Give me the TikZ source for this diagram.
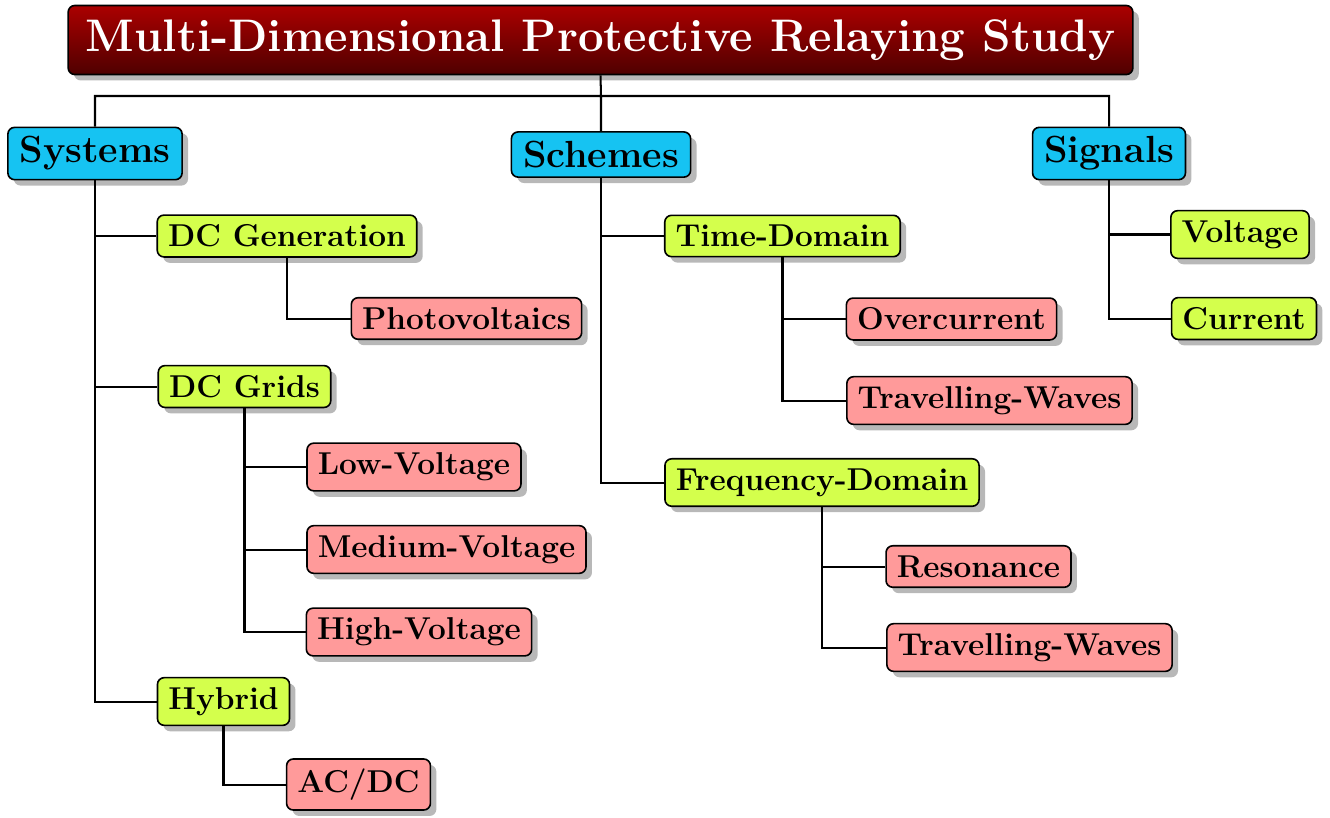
\documentclass[tikz,border=0pt]{standalone}
\usetikzlibrary{shadows}
\definecolor{lvlone}{HTML}{16C3F2}
\definecolor{lvltwo}{HTML}{D4FF4C}
\definecolor{lvlthree}{HTML}{FF9A9A}
\tikzset{
  box/.style={draw=black, line width=0.6pt, rounded corners=2.5pt, inner xsep=4pt, inner ysep=3.6pt,
    font=\fontsize{11.7}{14}\selectfont\bfseries,
    drop shadow={fill=black!28, opacity=1, shadow xshift=2.2pt, shadow yshift=-2.2pt}},
  titlebox/.style={box, top color=red!67!black, bottom color=red!31!black, text=white,
    font=\fontsize{16.9}{20}\selectfont\bfseries, inner ysep=5.2pt, inner xsep=6.5pt},
  onebox/.style={box, fill=lvlone, font=\fontsize{14}{17}\selectfont\bfseries, inner ysep=3.4pt, inner xsep=4.3pt},
  twobox/.style={box, fill=lvltwo},
  threebox/.style={box, fill=lvlthree},
  link/.style={draw=black, line width=0.75pt}
}
\begin{document}
\begin{tikzpicture}[x=0.37037pt, y=-0.37037pt]
\useasboundingbox (0,0) rectangle (1330,817);
\node[titlebox] (title) at (600.5,40) {Multi-Dimensional Protective Relaying Study};
\node[onebox] (sys) at (95,153.5) {Systems};
\node[onebox] (sch) at (601,154.5) {Schemes};
\node[onebox] (sig) at (1109,153.5) {Signals};
% Systems branch
\node[twobox] (dcgen) at (287,236) {DC Generation};
\node[threebox] (pv) at (466.5,318.5) {Photovoltaics};
\node[twobox] (dcgrid) at (244.5,386.5) {DC Grids};
\node[threebox] (lv) at (414,467) {Low-Voltage};
\node[threebox] (mv) at (446.5,549.5) {Medium-Voltage};
\node[threebox] (hv) at (419,632) {High-Voltage};
\node[twobox] (hyb) at (223.5,701.5) {Hybrid};
\node[threebox] (acdc) at (358.5,784.5) {AC/DC};
% Schemes branch
\node[twobox] (td) at (782.5,236) {Time-Domain};
\node[threebox] (oc) at (951.5,319) {Overcurrent};
\node[threebox] (tw1) at (989.5,400.5) {Travelling-Waves};
\node[twobox] (fd) at (822,482.5) {Frequency-Domain};
\node[threebox] (res) at (978.5,566.5) {Resonance};
\node[threebox] (tw2) at (1029.5,647.5) {Travelling-Waves};
% Signals branch
\node[twobox] (volt) at (1240,234.5) {Voltage};
\node[twobox] (cur) at (1244,318.5) {Current};
% connectors
\coordinate (bus) at (601,96);
\draw[link] (title.south) -- (bus) (bus) -| (sys.north) (bus) -| (sch.north) (bus) -| (sig.north);
\draw[link] (sys.south) |- (dcgen.west) (sys.south) |- (dcgrid.west) (sys.south) |- (hyb.west);
\draw[link] (dcgen.south) |- (pv.west);
\draw[link] (dcgrid.south) |- (lv.west) (dcgrid.south) |- (mv.west) (dcgrid.south) |- (hv.west);
\draw[link] (hyb.south) |- (acdc.west);
\draw[link] (sch.south) |- (td.west) (sch.south) |- (fd.west);
\draw[link] (td.south) |- (oc.west) (td.south) |- (tw1.west);
\draw[link] (fd.south) |- (res.west) (fd.south) |- (tw2.west);
\draw[link] (sig.south) |- (volt.west) (sig.south) |- (cur.west);
\end{tikzpicture}
\end{document}
